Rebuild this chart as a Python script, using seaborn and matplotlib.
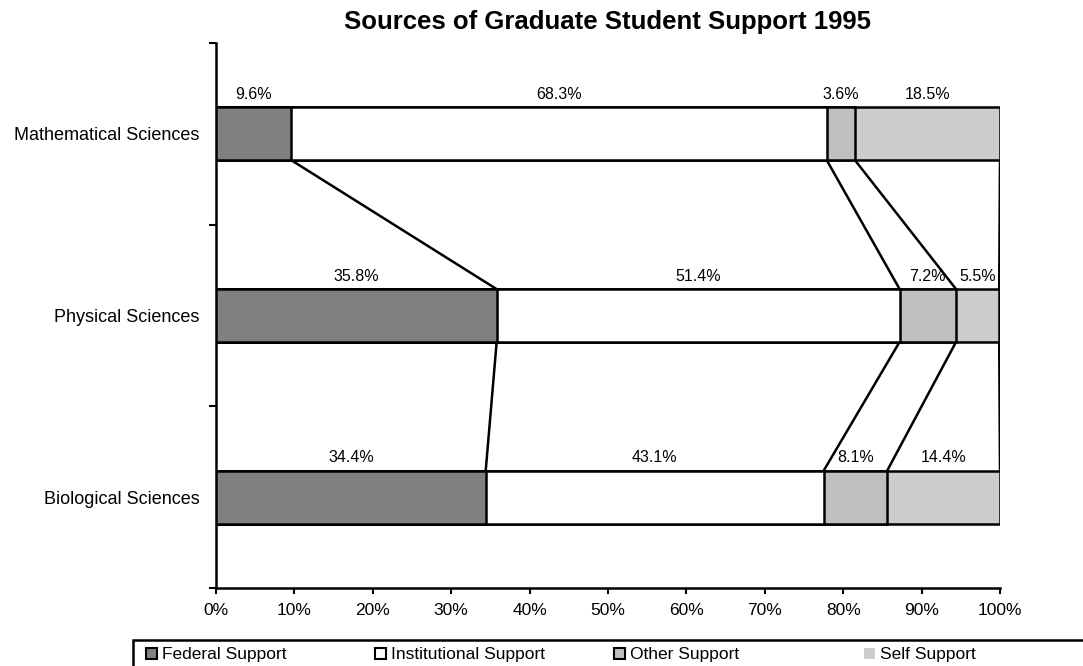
import matplotlib
matplotlib.use("Agg")
import matplotlib.pyplot as plt
from matplotlib.patches import Patch, Rectangle
from matplotlib.ticker import FixedLocator, MultipleLocator, PercentFormatter
import numpy as np
import pandas as pd
import seaborn as sns

# Shares of graduate student support by field, 1995 (percent)
categories = ["Mathematical Sciences", "Physical Sciences", "Biological Sciences"]
federal = [9.6, 35.8, 34.4]
institutional = [68.3, 51.4, 43.1]
other = [3.6, 7.2, 8.1]
self_support = [18.5, 5.5, 14.4]
series_names = ["Federal Support", "Institutional Support", "Other Support", "Self Support"]
series_colors = ["#808080", "#FFFFFF", "#C0C0C0", "#CCCCCC"]

sns.set_style("ticks")
plt.rcParams["font.family"] = ["Liberation Sans", "DejaVu Sans"]
for key in ("text.color", "axes.labelcolor", "xtick.color", "ytick.color"):
    plt.rcParams[key] = "black"

values = np.array([federal, institutional, other, self_support])
cumulative = np.cumsum(values, axis=0)
starts = cumulative - values

df = pd.DataFrame({"category": categories})
for name, cum in zip(series_names, cumulative):
    df[name] = cum

W, H = 1083, 666
fig = plt.figure(figsize=(W / 100, H / 100), dpi=100)
ax = fig.add_axes([216 / W, 78 / H, 784 / W, 545 / H])

bar_h = 0.29
# Stacked bars: draw running totals from the longest down so each segment shows
for name, color in reversed(list(zip(series_names, series_colors))):
    sns.barplot(data=df, x=name, y="category", orient="h", color=color,
                saturation=1, width=bar_h, edgecolor="black", linewidth=1.8,
                ax=ax, zorder=3)

# Series lines joining the segment boundaries of neighbouring bars
for i in range(len(categories) - 1):
    for k in range(len(series_names)):
        ax.plot([cumulative[k, i], cumulative[k, i + 1]],
                [i + bar_h / 2, i + 1 - bar_h / 2],
                color="black", lw=1.8, zorder=2, solid_capstyle="butt")

# Value labels above each segment
for k in range(len(series_names)):
    for i in range(len(categories)):
        ax.text((starts[k, i] + cumulative[k, i]) / 2, i - bar_h / 2 - 0.03,
                f"{values[k, i]:.1f}%", ha="center", va="bottom", fontsize=11.5,
                color="black", zorder=4)

ax.set_xlim(0, 100)
ax.set_ylim(2.5, -0.5)
ax.xaxis.set_major_locator(MultipleLocator(10))
ax.xaxis.set_major_formatter(PercentFormatter(decimals=0))
ax.set_xlabel("")
ax.set_ylabel("")

ax.yaxis.set_minor_locator(FixedLocator([-0.5, 0.5, 1.5, 2.5]))
ax.tick_params(axis="y", which="major", length=0, pad=12, labelsize=13)
ax.tick_params(axis="y", which="minor", length=5, width=1.5, direction="out")
ax.tick_params(axis="x", which="major", length=4, width=1.5, direction="out",
               pad=7, labelsize=12.5)

sns.despine(ax=ax, top=True, right=True)
for side in ("left", "bottom"):
    ax.spines[side].set_linewidth(1.8)
    ax.spines[side].set_color("black")

ax.set_title("Sources of Graduate Student Support 1995", fontsize=18.5,
             fontweight="bold", pad=10, color="black")

# Legend box running off the lower right of the figure
fig.add_artist(Rectangle((133 / W, -0.2), 1.0, 0.2 + 26 / H,
                         transform=fig.transFigure, facecolor="white",
                         edgecolor="black", linewidth=1.8, zorder=0))
handles = [
    Patch(facecolor=series_colors[0], edgecolor="black", linewidth=1.5),
    Patch(facecolor=series_colors[1], edgecolor="black", linewidth=1.5),
    Patch(facecolor=series_colors[2], edgecolor="black", linewidth=1.5),
    Patch(facecolor=series_colors[3], edgecolor="none"),
]
# One equal-width slot per entry, as in a spreadsheet legend
slot_left = [142, 371, 610, 860]
for handle, name, x in zip(handles, series_names, slot_left):
    leg = fig.legend([handle], [name], loc="upper left",
                     bbox_to_anchor=(x / W, 23 / H), fontsize=12.5,
                     frameon=False, handlelength=0.6, handleheight=0.6,
                     handletextpad=0.3, borderpad=0.25, borderaxespad=0)
    leg.set_zorder(5)

fig.savefig("out.png", dpi=100)
